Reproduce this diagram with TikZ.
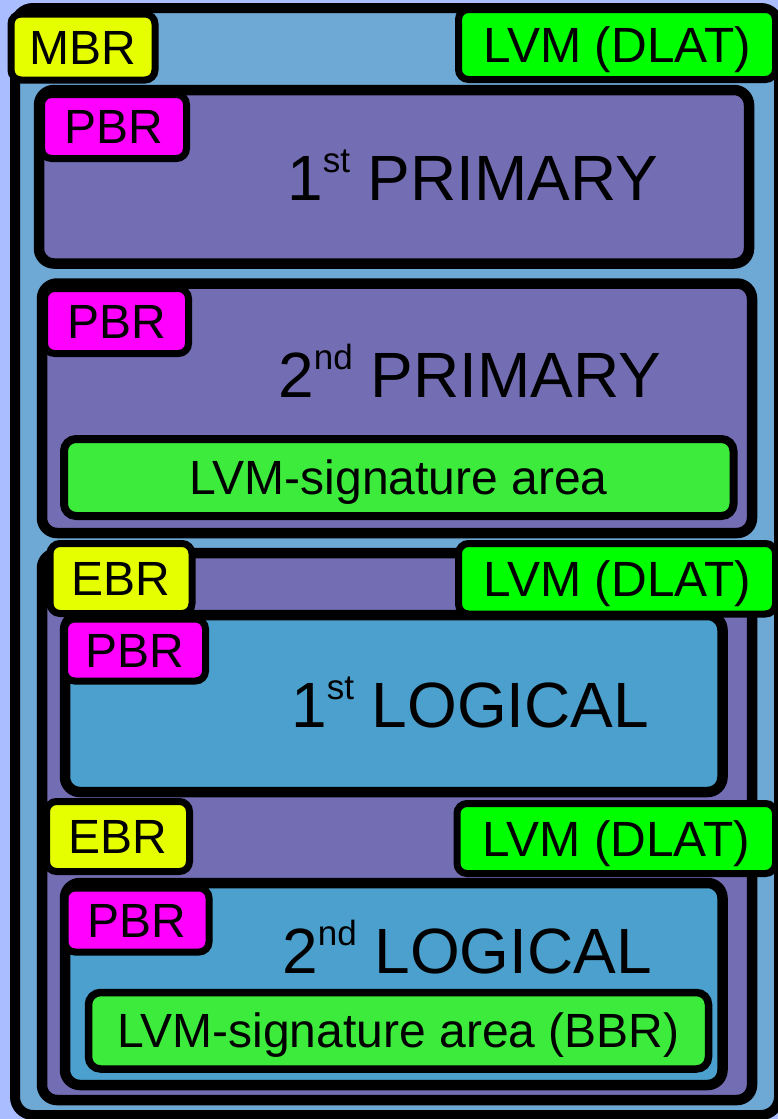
\documentclass[tikz,border=0pt]{standalone}
\usepackage{fontspec}
\setmainfont{Liberation Sans}

\definecolor{pagebg}{RGB}{170,190,255}
\definecolor{diskblue}{RGB}{110,168,212}
\definecolor{partpurple}{RGB}{115,110,180}
\definecolor{logblue}{RGB}{75,160,205}
\definecolor{recyellow}{RGB}{230,255,0}
\definecolor{pbrmagenta}{RGB}{255,0,255}
\definecolor{dlatgreen}{RGB}{0,255,0}
\definecolor{siggreen}{RGB}{60,235,60}

% superscript ordinal suffix for the big partition titles
\newcommand{\ordsuf}[1]{\raisebox{28pt}{\fontsize{35}{35}\selectfont #1}}

\begin{document}
\begin{tikzpicture}[x=1pt,y=-1pt,
  frame/.style={draw=black, rectangle, inner sep=0pt, outer sep=0pt},
  bigbox/.style={frame, line width=10.5pt, rounded corners=15pt},
  tagbox/.style={frame, line width=7pt, rounded corners=10pt,
    font=\fontsize{48}{48}\selectfont, text height=34pt, text depth=0pt},
  dlatbox/.style={tagbox, fill=dlatgreen, font=\fontsize{49.5}{49.5}\selectfont, text height=35pt},
  sigbox/.style={frame, line width=8pt, rounded corners=12pt, fill=siggreen,
    font=\fontsize{48}{48}\selectfont, text height=34pt, text depth=0pt},
  title/.style={anchor=base west, inner sep=0pt, font=\fontsize{64}{64}\selectfont}
]
\useasboundingbox[fill=pagebg] (0,0) rectangle (778,1119);
\clip (0,0) rectangle (778,1119);

% whole disk
\node[frame, line width=10pt, rounded corners=18pt, fill=diskblue,
  minimum width=764pt, minimum height=1107pt] (disk) at (397,561.5) {};
\node[tagbox, fill=recyellow, minimum width=144pt, minimum height=66pt] (mbr) at (83,47) {MBR};
\node[dlatbox, minimum width=317pt, minimum height=70pt] (dlat1) at (617,44.5) {LVM (DLAT)};

% first primary partition
\node[bigbox, fill=partpurple, minimum width=710pt, minimum height=173.5pt] (prim1) at (394,176.75) {};
\node[tagbox, fill=pbrmagenta, minimum width=145pt, minimum height=64pt] (pbr1) at (114,126.5) {PBR};
\node[title] (prim1title) at (287,200) {1\ordsuf{st} PRIMARY};

% second primary partition
\node[bigbox, fill=partpurple, minimum width=710pt, minimum height=249.5pt] (prim2) at (397,408.25) {};
\node[tagbox, fill=pbrmagenta, minimum width=144pt, minimum height=65pt] (pbr2) at (116.5,321) {PBR};
\node[title] (prim2title) at (278,397) {2\ordsuf{nd} PRIMARY};
\node[sigbox, minimum width=669.5pt, minimum height=77pt] (sig1) at (398.75,477.5) {LVM-signature area};

% extended partition
\node[bigbox, fill=partpurple, minimum width=710pt, minimum height=547pt] (ext) at (397,826.5) {};

% first logical drive
\node[bigbox, fill=logblue, minimum width=657.5pt, minimum height=177pt] (log1) at (393.75,703.5) {};
\node[tagbox, fill=recyellow, minimum width=142pt, minimum height=70pt] (ebr1) at (121,578.5) {EBR};
\node[dlatbox, minimum width=317pt, minimum height=70.5pt] (dlat2) at (617,578.75) {LVM (DLAT)};
\node[tagbox, fill=pbrmagenta, minimum width=141pt, minimum height=62pt] (pbr3) at (135,650) {PBR};
\node[title] (log1title) at (291,727) {1\ordsuf{st} LOGICAL};

% second logical drive
\node[bigbox, fill=logblue, minimum width=657.5pt, minimum height=202pt] (log2) at (393.75,984) {};
\node[tagbox, fill=recyellow, minimum width=143pt, minimum height=70pt] (ebr2) at (118,836.5) {EBR};
\node[dlatbox, minimum width=318.5pt, minimum height=70pt] (dlat3) at (616.25,838.5) {LVM (DLAT)};
\node[tagbox, fill=pbrmagenta, minimum width=144pt, minimum height=64pt] (pbr4) at (137,920) {PBR};
\node[title] (log2title) at (282,973) {2\ordsuf{nd} LOGICAL};
\node[sigbox, line width=7.5pt, minimum width=620pt, minimum height=76.5pt] (sig2) at (398.5,1030.75) {LVM-signature area (BBR)};
\end{tikzpicture}
\end{document}
